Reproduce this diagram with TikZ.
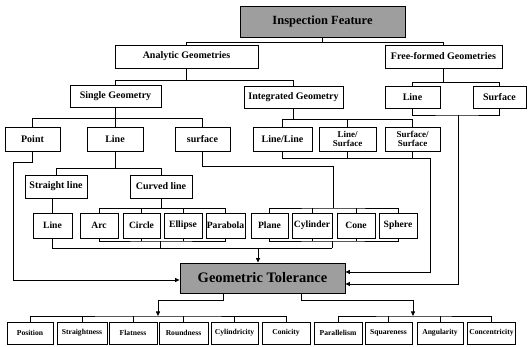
\documentclass[tikz,border=0pt]{standalone}
\usepackage{fontspec}
\setmainfont{Liberation Serif}
\usetikzlibrary{arrows.meta,shadows}
\begin{document}
\begin{tikzpicture}[x=1pt,y=-1pt,
  box/.style={draw=black, line width=0.9pt, fill=white, inner xsep=1pt, inner ysep=1pt,
    align=center, font=\fontsize{10}{10.5}\selectfont\bfseries,
    drop shadow={shadow xshift=0.9pt, shadow yshift=-0.9pt, fill=black, opacity=1}},
  shadebox/.style={box, fill=black!38},
  small/.style={font=\fontsize{9.6}{10}\selectfont\bfseries},
  twoline/.style={font=\fontsize{9}{9.5}\selectfont\bfseries},
  tiny/.style={font=\fontsize{7.6}{8}\selectfont\bfseries},
  conn/.style={draw=black, line width=0.75pt},
  arr/.style={conn, -{Triangle[length=4.5pt,width=4pt]}}
]
\useasboundingbox (0,0) rectangle (530,347);

% ---- top levels ----
\node[shadebox, font=\fontsize{12.5}{13}\selectfont\bfseries, minimum width=165pt, minimum height=31pt] (insp) at (322.5,21.5) {Inspection Feature};
\node[box, minimum width=143pt, minimum height=23pt] (analytic) at (186.5,56.5) {Analytic Geometries};
\node[box, minimum width=117pt, minimum height=23pt] (free) at (443.5,56.5) {Free-formed Geometries};

\node[box, minimum width=91pt, minimum height=22pt] (single) at (115.5,96) {Single Geometry};
\node[box, minimum width=99pt, minimum height=22pt] (integ) at (293.5,97) {Integrated Geometry};
\node[box, minimum width=55pt, minimum height=22pt] (fline) at (412.5,97) {Line};
\node[box, minimum width=53pt, minimum height=22pt] (fsurf) at (499.5,97) {Surface};

% ---- single / integrated children ----
\node[box, minimum width=55pt, minimum height=24pt] (point) at (32.5,139) {Point};
\node[box, minimum width=56pt, minimum height=24pt] (line1) at (115,139) {Line};
\node[box, minimum width=55pt, minimum height=24pt] (surf1) at (202.5,139) {surface};
\node[box, minimum width=59pt, minimum height=24pt] (ll) at (282.5,139) {Line/Line};
\node[box, twoline, minimum width=57pt, minimum height=24pt] (ls) at (347.5,139) {Line/\\Surface};
\node[box, twoline, minimum width=55pt, minimum height=24pt] (ss) at (412.5,139) {Surface/\\Surface};

\node[box, minimum width=62pt, minimum height=23pt] (straight) at (56,186.5) {Straight line};
\node[box, minimum width=62pt, minimum height=23pt] (curved) at (161,186.5) {Curved line};

% ---- primitive elements ----
\node[box, small, minimum width=39pt, minimum height=25pt] (line2) at (52.5,225.5) {Line};
\node[box, small, minimum width=38pt, minimum height=25pt] (arc) at (99,225.5) {Arc};
\node[box, small, minimum width=37pt, minimum height=25pt] (circle) at (141.5,225.5) {Circle};
\node[box, small, minimum width=38pt, minimum height=25pt] (ellipse) at (183,225.5) {Ellipse};
\node[box, small, inner xsep=0pt, minimum width=39pt, minimum height=25pt] (parabola) at (225.5,225.5) {Parabola};
\node[box, small, minimum width=37pt, minimum height=25pt] (plane) at (269.5,225.5) {Plane};
\node[box, small, inner xsep=0pt, minimum width=40pt, minimum height=25pt] (cylinder) at (312,225.5) {Cylinder};
\node[box, small, minimum width=38pt, minimum height=25pt] (cone) at (356,225.5) {Cone};
\node[box, small, minimum width=38pt, minimum height=25pt] (sphere) at (398,225.5) {Sphere};

\node[shadebox, font=\fontsize{14.5}{15}\selectfont\bfseries, minimum width=165pt, minimum height=30pt] (gt) at (262.5,278) {Geometric Tolerance};

% ---- tolerance types ----
\node[box, tiny, minimum width=46pt, minimum height=22pt] (position) at (30,333) {Position};
\node[box, tiny, inner xsep=0pt, minimum width=50pt, minimum height=22pt] (straightness) at (82,333) {Straightness};
\node[box, tiny, minimum width=48pt, minimum height=22pt] (flatness) at (133,333) {Flatness};
\node[box, tiny, minimum width=49pt, minimum height=22pt] (roundness) at (183.5,333) {Roundness};
\node[box, tiny, inner xsep=0pt, minimum width=47pt, minimum height=22pt] (cylindricity) at (234.5,333) {Cylindricity};
\node[box, tiny, minimum width=48pt, minimum height=22pt] (conicity) at (286,333) {Conicity};
\node[box, tiny, minimum width=48pt, minimum height=22pt] (parallelism) at (338,333) {Parallelism};
\node[box, tiny, inner xsep=0pt, minimum width=47pt, minimum height=22pt] (squareness) at (388.5,333) {Squareness};
\node[box, tiny, minimum width=46pt, minimum height=22pt] (angularity) at (440,333) {Angularity};
\node[box, tiny, inner xsep=0pt, minimum width=48pt, minimum height=22pt] (concentricity) at (491.5,333) {Concentricity};

% ---- tree connectors ----
\draw[conn] (insp.south) -- ++(0,5) coordinate (j1);
\draw[conn] (analytic.north) |- (j1) -| (free.north);

\draw[conn] (analytic.south) -- ++(0,12) coordinate (j2);
\draw[conn] (single.north) |- (j2) -| (integ.north);

\draw[conn] (free.south) -- ++(0,14) coordinate (j3);
\draw[conn] (fline.north) |- (j3) -| (fsurf.north);

\draw[conn] (single.south) -- ++(0,11) coordinate (j4);
\draw[conn] (point.north) |- (j4) -| (surf1.north);
\draw[conn] (j4) -- (j4 |- line1.north);

\draw[conn] (integ.south) -- ++(0,11) coordinate (j5);
\draw[conn] (ll.north) |- (j5) -| (ss.north);
\draw[conn] (ls.north) -- (ls.north |- j5);

\draw[conn] (line1.south) -- ++(0,17) coordinate (j6);
\draw[conn] (straight.north) |- (j6) -| (curved.north);
\draw[conn] (line2.north) -- (line2.north |- straight.south);

\draw[conn] (curved.south) -- ++(0,10) coordinate (j7);
\draw[conn] (arc.north) |- (j7) -| (parabola.north);
\draw[conn] (circle.north) -- (circle.north |- j7);
\draw[conn] (ellipse.north) -- (ellipse.north |- j7);

\coordinate (s1) at (333,166);
\coordinate (j8) at (333,208);
\draw[conn] (surf1.south) |- (s1) -- (j8);
\draw[conn] (plane.north) |- (j8) -| (sphere.north);
\draw[conn] (cylinder.north) -- (cylinder.north |- j8);
\draw[conn] (cone.north) -- (cone.north |- j8);

% ---- feeds into the geometric tolerance ----
\coordinate (l1) at (13,162);
\coordinate (l2) at (13,280);
\draw[arr] (point.south) |- (l1) -- (l2) -- (l2 -| gt.west);

\coordinate (m1) at (160,241);
\coordinate (m2) at (332,241);
\coordinate (mL) at (160,248);
\coordinate (mR) at (332,248);
\coordinate (mA) at (258,248);
\draw[conn] (arc.south) |- (m1) -| (parabola.south);
\draw[conn] (circle.south) -- (circle.south |- m1);
\draw[conn] (ellipse.south) -- (ellipse.south |- m1);
\draw[conn] (m1) -- (mL);
\draw[conn] (plane.south) |- (m2) -| (sphere.south);
\draw[conn] (cylinder.south) -- (cylinder.south |- m2);
\draw[conn] (cone.south) -- (cone.south |- m2);
\draw[conn] (m2) -- (mR);
\draw[conn] (line2.south) |- (mR);
\draw[arr] (mA) -- (mA |- gt.north);

\coordinate (k1) at (430,158);
\coordinate (r1) at (430,272);
\draw[conn] (ll.south) |- (k1);
\draw[conn] (ls.south) -- (ls.south |- k1);
\draw[conn] (ss.south) -- (ss.south |- k1);
\draw[arr] (k1) -- (r1) -- (r1 -| gt.east);

\coordinate (k2) at (458,115);
\coordinate (r2) at (458,284);
\draw[conn] (fline.south) |- (k2) -| (fsurf.south);
\draw[arr] (k2) -- (r2) -- (r2 -| gt.east);

% ---- geometric tolerance to its types ----
\coordinate (g1) at (223,300);
\coordinate (g2) at (301,300);
\coordinate (b1) at (158,316);
\coordinate (b2) at (413,316);
\draw[arr] (g1 |- gt.south) -- (g1) -| (b1);
\draw[arr] (g2 |- gt.south) -- (g2) -| (b2);

\draw[conn] (position.north) |- (b1) -| (conicity.north);
\draw[conn] (straightness.north) -- (straightness.north |- b1);
\draw[conn] (flatness.north) -- (flatness.north |- b1);
\draw[conn] (roundness.north) -- (roundness.north |- b1);
\draw[conn] (cylindricity.north) -- (cylindricity.north |- b1);

\draw[conn] (parallelism.north) |- (b2) -| (concentricity.north);
\draw[conn] (squareness.north) -- (squareness.north |- b2);
\draw[conn] (angularity.north) -- (angularity.north |- b2);
\end{tikzpicture}
\end{document}
